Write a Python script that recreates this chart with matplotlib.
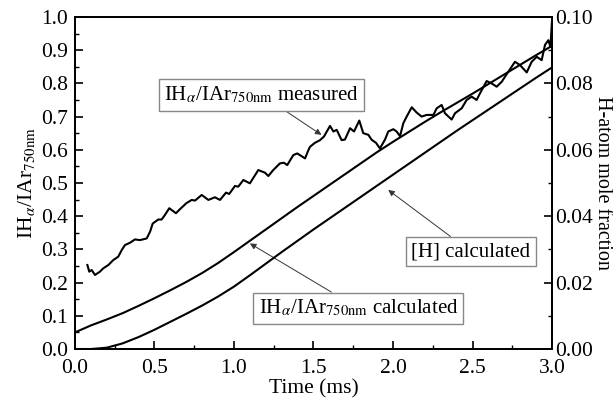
import matplotlib
matplotlib.use('Agg')
import matplotlib.pyplot as plt
from matplotlib.ticker import MultipleLocator, FormatStrFormatter

plt.rcParams['font.family'] = ['Liberation Serif', 'DejaVu Serif']
plt.rcParams['mathtext.fontset'] = 'stix'

# measured IHa/IAr ratio (left axis)
meas_t = [0.078, 0.090, 0.105, 0.126, 0.157, 0.178, 0.210, 0.241, 0.272, 0.294,
          0.314, 0.346, 0.377, 0.409, 0.451, 0.472, 0.489, 0.524, 0.545, 0.566,
          0.593, 0.635, 0.660, 0.700, 0.734, 0.755, 0.797, 0.839, 0.880, 0.912,
          0.950, 0.970, 1.006, 1.027, 1.059, 1.100, 1.153, 1.195, 1.216, 1.247,
          1.289, 1.314, 1.335, 1.373, 1.398, 1.447, 1.468, 1.478, 1.509, 1.541,
          1.566, 1.604, 1.625, 1.646, 1.677, 1.698, 1.730, 1.755, 1.788, 1.813,
          1.845, 1.866, 1.893, 1.918, 1.950, 1.970, 2.002, 2.023, 2.044, 2.065,
          2.086, 2.118, 2.149, 2.180, 2.212, 2.254, 2.275, 2.306, 2.327, 2.369,
          2.390, 2.432, 2.463, 2.495, 2.526, 2.547, 2.589, 2.620, 2.652, 2.684,
          2.725, 2.767, 2.799, 2.841, 2.872, 2.904, 2.935, 2.956, 2.977, 2.990,
          3.000]
meas_ratio = [0.253, 0.233, 0.238, 0.223, 0.233, 0.243, 0.253, 0.268, 0.278, 0.298,
              0.313, 0.320, 0.330, 0.328, 0.333, 0.353, 0.378, 0.390, 0.390, 0.404,
              0.424, 0.409, 0.421, 0.439, 0.449, 0.447, 0.464, 0.449, 0.457, 0.449,
              0.471, 0.467, 0.491, 0.489, 0.509, 0.499, 0.539, 0.531, 0.521, 0.539,
              0.559, 0.561, 0.554, 0.584, 0.589, 0.574, 0.599, 0.609, 0.621, 0.629,
              0.640, 0.672, 0.655, 0.660, 0.629, 0.631, 0.665, 0.655, 0.688, 0.650,
              0.645, 0.630, 0.621, 0.604, 0.631, 0.655, 0.662, 0.655, 0.641, 0.680,
              0.700, 0.728, 0.712, 0.700, 0.705, 0.705, 0.725, 0.735, 0.710, 0.691,
              0.710, 0.725, 0.750, 0.760, 0.750, 0.770, 0.807, 0.800, 0.790, 0.805,
              0.835, 0.865, 0.855, 0.833, 0.865, 0.880, 0.870, 0.916, 0.930, 0.910,
              0.990]

# calculated curves
calc_t = [0.0, 0.1, 0.2, 0.3, 0.4, 0.5, 0.6, 0.7, 0.8, 0.9, 1.0,
          1.1, 1.2, 1.3, 1.4, 1.5, 1.6, 1.7, 1.8, 1.9, 2.0,
          2.1, 2.2, 2.3, 2.4, 2.5, 2.6, 2.7, 2.8, 2.9, 3.0]
calc_ratio = [0.050, 0.071, 0.089, 0.108, 0.130, 0.153, 0.177, 0.202, 0.229, 0.259, 0.292,
              0.326, 0.360, 0.394, 0.428, 0.461, 0.494, 0.527, 0.560, 0.593, 0.624,
              0.654, 0.684, 0.713, 0.741, 0.769, 0.798, 0.827, 0.856, 0.885, 0.913]
h_frac = [0.0000, 0.0000, 0.0004, 0.0017, 0.0036, 0.0058, 0.0082, 0.0106, 0.0131, 0.0158, 0.0188,
          0.0222, 0.0257, 0.0292, 0.0326, 0.0360, 0.0393, 0.0426, 0.0459, 0.0492, 0.0525,
          0.0558, 0.0591, 0.0624, 0.0657, 0.0689, 0.0721, 0.0753, 0.0785, 0.0817, 0.0848]

ratio_lbl = r'IH$_{\alpha}$/IAr$_{\mathrm{750nm}}$'

fig = plt.figure(figsize=(6.13, 4.04), dpi=100)
ax = fig.add_axes([0.1223, 0.1361, 0.7782, 0.8219])
ax2 = ax.twinx()

ax.plot(meas_t, meas_ratio, color='black', lw=1.5)
ax.plot(calc_t, calc_ratio, color='black', lw=1.5)
ax2.plot(calc_t, h_frac, color='black', lw=1.5)

ax.set_xlim(0, 3.0)
ax.set_ylim(0, 1.0)
ax2.set_ylim(0, 0.10)

ax.xaxis.set_major_locator(MultipleLocator(0.5))
ax.xaxis.set_minor_locator(MultipleLocator(0.25))
ax.yaxis.set_major_locator(MultipleLocator(0.1))
ax.yaxis.set_minor_locator(MultipleLocator(0.05))
ax2.yaxis.set_major_locator(MultipleLocator(0.02))
ax2.yaxis.set_minor_locator(MultipleLocator(0.01))
ax.xaxis.set_major_formatter(FormatStrFormatter('%.1f'))
ax.yaxis.set_major_formatter(FormatStrFormatter('%.1f'))
ax2.yaxis.set_major_formatter(FormatStrFormatter('%.2f'))

for a in (ax, ax2):
    a.tick_params(which='major', direction='in', length=6, width=1.2, labelsize=15.5)
    a.tick_params(which='minor', direction='in', length=3, width=1.0)
    for s in a.spines.values():
        s.set_linewidth(1.3)
ax.tick_params(which='both', top=False, right=False)
ax.tick_params(axis='x', pad=7)
ax.tick_params(axis='y', pad=5)
ax2.tick_params(which='both', left=False, right=True)
ax2.tick_params(axis='y', pad=2)

ax.set_xlabel('Time (ms)', fontsize=15.5, labelpad=1)
ax.set_ylabel(ratio_lbl, fontsize=15.5, labelpad=3)
ax2.set_ylabel('H-atom mole fraction', fontsize=14.5, rotation=270, labelpad=14)

box = dict(boxstyle='square,pad=0.25', fc='white', ec='#888888', lw=1.0)
arrow = dict(arrowstyle='-|>', color='#333333', lw=0.7, mutation_scale=9, shrinkA=0, shrinkB=0)

ax.annotate(ratio_lbl + ' measured', xy=(1.55, 0.645), xytext=(1.174, 0.765),
            fontsize=15, ha='center', va='center', bbox=box, arrowprops=arrow)
ax.annotate(ratio_lbl + ' calculated', xy=(1.10, 0.318), xytext=(1.782, 0.123),
            fontsize=15, ha='center', va='center', bbox=box, arrowprops=arrow)
ax.annotate('[H] calculated', xy=(1.97, 0.479), xytext=(2.49, 0.293),
            fontsize=15, ha='center', va='center', bbox=box, arrowprops=arrow)

fig.savefig('out.png', dpi=100)
